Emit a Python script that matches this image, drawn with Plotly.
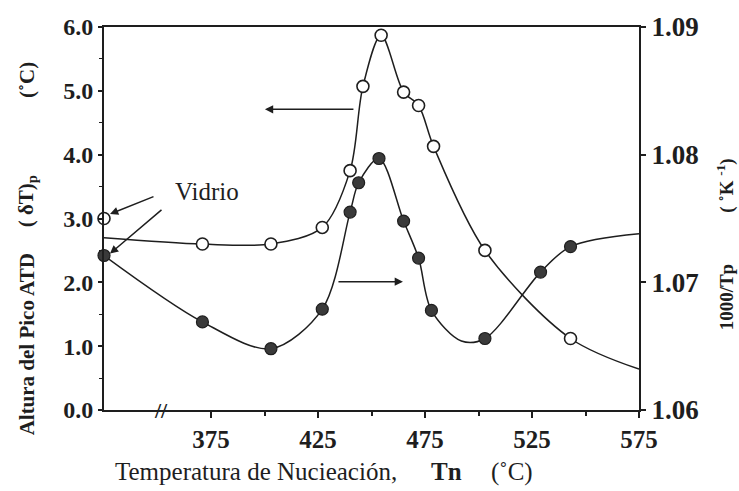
import plotly.graph_objects as go

# Nucleation temperature (°C); the glass ("Vidrio") sample sits at the broken left edge
tn_open = [325, 371, 403, 427, 440, 446, 454.5, 465, 472, 479, 503, 543]
dT_open = [3.00, 2.60, 2.60, 2.86, 3.75, 5.07, 5.87, 4.98, 4.77, 4.13, 2.50, 1.12]

tn_fill = [325, 371, 403, 427, 440, 444, 453.5, 465, 472, 478, 503, 529, 543]
inv_tp_fill = [1.0721, 1.0669, 1.0648, 1.0679, 1.0755, 1.0778, 1.0797,
               1.0748, 1.0719, 1.0678, 1.0656, 1.0708, 1.0728]

# Hand-drawn guide curves through the measured points
curve_open_x = [325, 371, 403, 427, 440, 446, 454.5, 465, 472, 479, 503, 543, 575]
curve_open_y = [2.70, 2.60, 2.60, 2.86, 3.75, 5.07, 5.87, 4.98, 4.77, 4.13, 2.50, 1.12, 0.64]

curve_fill_x = [325, 371, 403, 427, 440, 444, 453.5, 465, 472, 478, 492, 503, 529, 543, 575]
curve_fill_y = [1.0721, 1.0669, 1.0648, 1.0679, 1.0755, 1.0778, 1.0797, 1.0748,
                1.0719, 1.0678, 1.0654, 1.0656, 1.0708, 1.0728, 1.0738]

x_ticks = [375, 425, 475, 525, 575]
x_minor = [400, 450, 500, 550]
left_ticks = [0, 1, 2, 3, 4, 5, 6]
right_ticks = [1.06, 1.07, 1.08, 1.09]

INK = "#1e1e1e"
SERIF = "Liberation Serif"

# plot area in pixels: x 104..639, y 19..410
L, R, T, B = 104, 639, 19, 410


def px(xp):
    return (xp - L) / (R - L)


def py(yp):
    return (B - yp) / (B - T)


fig = go.Figure()

fig.add_trace(go.Scatter(x=curve_open_x, y=curve_open_y, mode="lines",
                         line=dict(color=INK, width=1.5, shape="spline", smoothing=0.9),
                         hoverinfo="skip", showlegend=False))
fig.add_trace(go.Scatter(x=curve_fill_x, y=curve_fill_y, mode="lines", yaxis="y2",
                         line=dict(color=INK, width=1.5, shape="spline", smoothing=0.9),
                         hoverinfo="skip", showlegend=False))
fig.add_trace(go.Scatter(x=tn_open, y=dT_open, mode="markers",
                         marker=dict(symbol="circle", size=12, color="white",
                                     line=dict(color=INK, width=1.6)),
                         showlegend=False, cliponaxis=False))
fig.add_trace(go.Scatter(x=tn_fill, y=inv_tp_fill, mode="markers", yaxis="y2",
                         marker=dict(symbol="circle", size=12, color="#3a3a3a",
                                     line=dict(color=INK, width=1.2)),
                         showlegend=False, cliponaxis=False))

fig.update_layout(
    width=739, height=491,
    margin=dict(l=L, r=739 - R, t=T, b=491 - B),
    paper_bgcolor="white", plot_bgcolor="white",
    showlegend=False,
    xaxis=dict(range=[325, 575], tickvals=x_ticks,
               ticktext=[f"<b>{v}</b>" for v in x_ticks],
               showline=True, linecolor=INK, linewidth=2, mirror=True,
               ticks="outside", ticklen=6, tickwidth=1.5, tickcolor=INK,
               minor=dict(tickvals=x_minor, ticks="outside", ticklen=4,
                          tickwidth=1.5, tickcolor=INK),
               showgrid=False, zeroline=False,
               tickfont=dict(family=SERIF, size=25, color=INK)),
    yaxis=dict(range=[0, 6], tickvals=left_ticks,
               ticktext=[f"<b>{v:.1f}</b>" for v in left_ticks],
               showline=True, linecolor=INK, linewidth=2,
               ticks="outside", ticklen=4, tickwidth=1.5, tickcolor=INK,
               minor=dict(dtick=0.5, ticks="outside", ticklen=3, tickwidth=1, tickcolor=INK),
               showgrid=False, zeroline=False,
               tickfont=dict(family=SERIF, size=24, color=INK)),
    yaxis2=dict(range=[1.06, 1.09], tickvals=right_ticks,
                ticktext=[f"<b>{v:.2f}</b>" for v in right_ticks],
                overlaying="y", side="right",
                showline=True, linecolor=INK, linewidth=2,
                ticks="outside", ticklen=5, tickwidth=1.5, tickcolor=INK,
                showgrid=False, zeroline=False,
                tickfont=dict(family=SERIF, size=27, color=INK)),
)


def label(text, xp, yp, size, angle=0, xanchor="center"):
    return dict(text=text, xref="paper", yref="paper", x=px(xp), y=py(yp),
                xanchor=xanchor, yanchor="middle", textangle=angle, showarrow=False,
                font=dict(family=SERIF, size=size, color=INK))


def pointer(x, y, ax, ay, yref="y"):
    return dict(text="", xref="x", yref=yref, x=x, y=y, ax=ax, ay=ay,
                showarrow=True, arrowhead=2, arrowsize=1.1, arrowwidth=1.5,
                arrowcolor=INK)


annotations = [
    # left axis title
    label("<b>Altura del Pico ATD</b>", 27, 343, 21, -90),
    label("<b>( δT)<sub>p</sub></b>", 27, 197, 21, -90),
    label("<b>(˚C)</b>", 27, 73, 21, -90),
    # right axis title
    label("<b>1000/Tp</b>", 726, 295, 19, -90),
    label("<b>( ˚K <sup>-1</sup>)</b>", 726, 181, 19, -90),
    # x axis title
    label("Temperatura de Nucieación,", 113, 473, 25, xanchor="left"),
    label("<b>Tn</b>", 429, 473, 25, xanchor="left"),
    label("(˚C)", 489, 473, 25, xanchor="left"),
    # axis break
    dict(text="<b>//</b>", xref="x", yref="y", x=351.5, y=0, showarrow=False,
         xanchor="center", yanchor="middle",
         font=dict(family=SERIF, size=22, color=INK)),
    # glass label and its pointers
    label("Vidrio", 207, 187, 25),
    pointer(327.8, 3.07, 45, -18),
    pointer(327.8, 2.45, 53, -45),
    # series-to-axis pointers
    pointer(400.2, 4.71, 90, 0),
    pointer(464.7, 2.01, -66, 0),
]
fig.update_layout(annotations=annotations)

fig.write_html("out.html")
